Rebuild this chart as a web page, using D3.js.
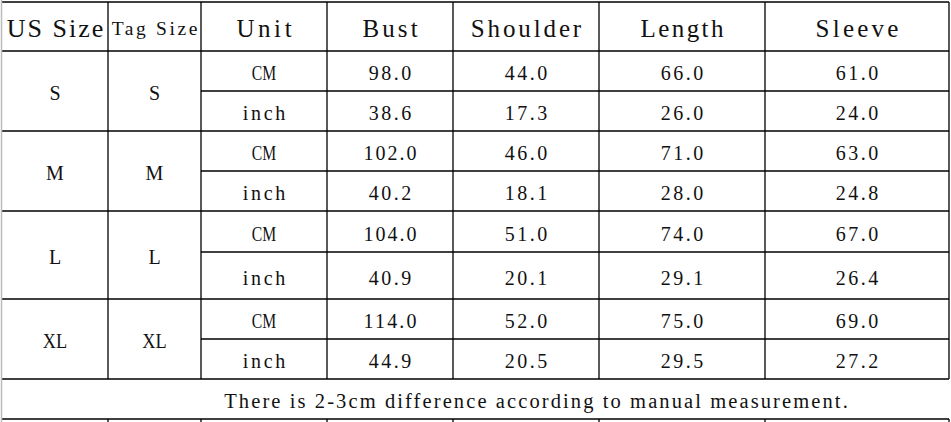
<!DOCTYPE html>
<html lang="en">

<head>
  <meta charset="UTF-8">
  <title>Size Chart</title>
  <script src="https://cdn.jsdelivr.net/npm/d3@7"></script>
  <style>
    body { margin: 0; background: #fff; }
    svg { display: block; }
  </style>
</head>

<body>
  <script>
    // table data
    const headers = ["US Size", "Tag Size", "Unit", "Bust", "Shoulder", "Length", "Sleeve"];
    const usSizes = ["S", "M", "L", "XL"];
    const tagSizes = ["S", "M", "L", "XL"];
    const units = ["CM", "inch"];
    const bustCm = ["98.0", "102.0", "104.0", "114.0"];
    const bustIn = ["38.6", "40.2", "40.9", "44.9"];
    const shoulderCm = ["44.0", "46.0", "51.0", "52.0"];
    const shoulderIn = ["17.3", "18.1", "20.1", "20.5"];
    const lengthCm = ["66.0", "71.0", "74.0", "75.0"];
    const lengthIn = ["26.0", "28.0", "29.1", "29.5"];
    const sleeveCm = ["61.0", "63.0", "67.0", "69.0"];
    const sleeveIn = ["24.0", "24.8", "26.4", "27.2"];
    const note = "There is 2-3cm difference according to manual measurement.";

    // layout
    const width = 951, height = 422;
    const colWidths = [106, 93, 126, 126, 146, 166, 184];
    const rowHeights = [49, 40, 40, 40, 40, 41, 47, 40, 40, 40];
    const marginLeft = 2, marginTop = 2;
    const font = "'Liberation Serif', serif";

    const colKeys = d3.range(colWidths.length + 1);
    const colEdges = colKeys.map(i => marginLeft + d3.sum(colWidths.slice(0, i)));
    const x = d3.scaleOrdinal(colKeys, colEdges);
    const cx = i => (x(i) + x(i + 1)) / 2;

    const rowKeys = d3.range(rowHeights.length + 1);
    const rowEdges = rowKeys.map(i => marginTop + d3.sum(rowHeights.slice(0, i)));
    const y = d3.scaleOrdinal(rowKeys, rowEdges);
    const cy = (a, b) => (y(a) + y(b)) / 2;

    const svg = d3.select("body").append("svg")
      .attr("width", width)
      .attr("height", height);

    svg.append("rect").attr("width", width).attr("height", height).attr("fill", "#fff");

    // build cell list
    const cells = [];
    headers.forEach((h, i) => {
      const size = i === 1 ? 19.5 : (i === 0 ? 26 : 25);
      const charW = i === 1 ? 10.7 : 13.8;
      cells.push({ text: h, x: cx(i), y: cy(0, 1) + 2, size, charW });
    });
    const valueCols = [
      [bustCm, bustIn], [shoulderCm, shoulderIn], [lengthCm, lengthIn], [sleeveCm, sleeveIn]
    ];
    usSizes.forEach((s, k) => {
      const r = 1 + k * 2;
      cells.push({ text: s, x: cx(0), y: cy(r, r + 2) + 2, size: 20, charW: 10.6 });
      cells.push({ text: tagSizes[k], x: cx(1), y: cy(r, r + 2) + 2, size: 20, charW: 10.6 });
      units.forEach((u, j) => {
        cells.push({ text: u, x: cx(2), y: cy(r + j, r + j + 1) + 2, size: 20, charW: 10.6 });
        valueCols.forEach((pair, c) => {
          cells.push({ text: pair[j][k], x: cx(3 + c), y: cy(r + j, r + j + 1) + 2, size: 20, charW: 10.6 });
        });
      });
    });
    // note row sits after the header and 8 data rows
    const noteRow = 1 + usSizes.length * units.length;
    cells.push({ text: note, x: 536, y: cy(noteRow, noteRow + 1) + 2, size: 20.5, charW: 10.75 });

    const labels = svg.append("g").selectAll("text")
      .data(cells)
      .join("text")
      .attr("x", d => d.x)
      .attr("y", d => d.y)
      .attr("text-anchor", "middle")
      .attr("dominant-baseline", "central")
      .attr("font-family", font)
      .attr("font-size", d => d.size)
      .attr("fill", "#111")
      .text(d => d.text);

    // spread letters to the half-width rhythm of the original font
    labels.each(function (d) {
      const target = d.text.length * d.charW;
      const natural = this.getComputedTextLength();
      if (d.text.length > 1 && natural < target) {
        d3.select(this).attr("textLength", target).attr("lengthAdjust", "spacing");
      } else if (d.text.length > 1 && natural > target * 1.15) {
        d3.select(this).attr("textLength", target * 1.15).attr("lengthAdjust", "spacingAndGlyphs");
      }
    });

    // grid lines
    const lines = [];
    // horizontal
    rowKeys.forEach(r => {
      let x1 = x(0);
      if (r >= 2 && r < noteRow && r % 2 === 0) x1 = x(2); // CM / inch split
      lines.push({ x1, x2: x(7), y1: y(r), y2: y(r) });
    });
    // vertical (the note row is one merged cell)
    colKeys.forEach(c => {
      if (c === 0) return;
      lines.push({ x1: x(c), x2: x(c), y1: y(0), y2: y(noteRow) });
      lines.push({ x1: x(c), x2: x(c), y1: y(noteRow + 1), y2: height });
    });

    svg.append("g").selectAll("line")
      .data(lines)
      .join("line")
      .attr("x1", d => d.x1)
      .attr("x2", d => d.x2)
      .attr("y1", d => d.y1)
      .attr("y2", d => d.y2)
      .attr("stroke", "#000")
      .attr("stroke-width", 1.3);

    // light left edge
    svg.append("line")
      .attr("x1", x(0) - 0.5).attr("x2", x(0) - 0.5)
      .attr("y1", 0).attr("y2", height)
      .attr("stroke", "#bbb")
      .attr("stroke-width", 1.5);
  </script>
</body>

</html>
